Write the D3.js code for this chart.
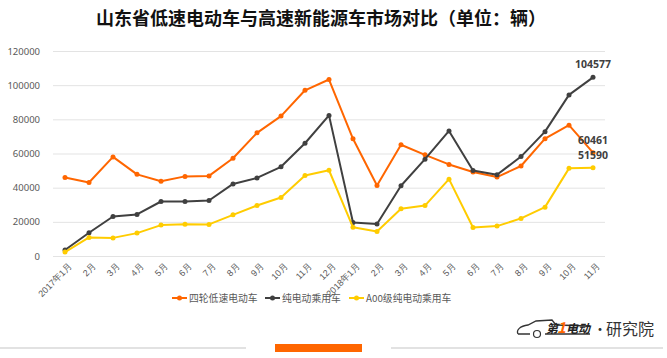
<!DOCTYPE html>
<html><head><meta charset="utf-8">
<script src="https://cdn.jsdelivr.net/npm/d3@7"></script>
<style>
html,body{margin:0;padding:0;background:#fff;}
svg{display:block;font-family:"Noto Sans CJK SC","Noto Sans",sans-serif;}
</style></head>
<body><svg id="chart" width="667" height="358"></svg>
<script>
const title = "山东省低速电动车与高速新能源车市场对比（单位：辆）";
const months = ["2017年1月","2月","3月","4月","5月","6月","7月","8月","9月","10月","11月","12月",
  "2018年1月","2月 ","3月 ","4月 ","5月 ","6月 ","7月 ","8月 ","9月 ","10月 ","11月 "];
const seriesNames = ["四轮低速电动车","纯电动乘用车","A00级纯电动乘用车"];
const lowSpeed = [46000,43000,58000,47800,43800,46600,46900,57200,72100,81900,97000,103300,
  68600,41300,65100,59200,53600,49200,46200,52700,68700,76600,60461];
const pureEV = [3500,13600,23100,24300,31900,31900,32500,42200,45700,52200,66000,82300,
  19600,18700,41100,56700,73200,50000,47600,58200,72800,94300,104577];
const a00 = [2300,10900,10600,13400,18100,18600,18500,24100,29600,34200,47100,50200,
  16800,14400,27600,29500,45000,16700,17500,22000,28600,51300,51590];
const yTicks = [0,20000,40000,60000,80000,100000,120000];
const colors = ["#FF6600","#404040","#FFCC00"];

const svg = d3.select("#chart");
const x = d3.scalePoint().domain(months).range([53,605]).padding(0.5);
const y = d3.scaleLinear().domain([0,120000]).range([256,51]);

// title
svg.append("text").attr("x",321).attr("y",25).attr("text-anchor","middle")
  .attr("font-size",18).attr("font-weight","bold").attr("fill","#111").text(title);

// y axis with gridlines
const ya = svg.append("g").attr("transform","translate(53,0)")
  .call(d3.axisLeft(y).tickValues(yTicks).tickSizeInner(-552).tickSizeOuter(0).tickPadding(13).tickFormat(d3.format("d")));
ya.select(".domain").remove();
ya.selectAll(".tick line").attr("stroke","#E3E3E3").attr("stroke-width",1);
ya.selectAll(".tick text").attr("fill","#595959").attr("font-size",9.5).attr("font-family","'Noto Sans','Noto Sans CJK SC',sans-serif");

// x axis
const xa = svg.append("g").attr("transform","translate(0,256)")
  .call(d3.axisBottom(x).tickSize(0).tickPadding(0));
xa.select(".domain").remove();
xa.selectAll(".tick text").attr("fill","#595959").attr("font-size",9)
  .attr("text-anchor","end").attr("dy",0).attr("y",0)
  .attr("transform","translate(7,11) rotate(-45)");

// lines
const data = [lowSpeed,pureEV,a00];
const line = d3.line().x((d,i)=>x(months[i])).y(d=>y(d));
data.forEach((s,k)=>{
  svg.append("path").datum(s).attr("d",line).attr("fill","none")
    .attr("stroke",colors[k]).attr("stroke-width",2).attr("stroke-linejoin","round");
  svg.append("g").selectAll("circle").data(s).join("circle")
    .attr("cx",(d,i)=>x(months[i])).attr("cy",d=>y(d)).attr("r",2.5).attr("fill",colors[k]);
});

// end labels
const last = months.length-1;
[[pureEV,-9],[lowSpeed,-9],[a00,-9]].forEach(([s,dy])=>{
  svg.append("text").attr("x",x(months[last])).attr("y",y(s[last])+dy)
    .attr("text-anchor","middle").attr("font-size",10.5).attr("font-weight","bold")
    .attr("fill","#404040").attr("font-family","'Noto Sans','Noto Sans CJK SC',sans-serif")
    .text(s[last]);
});

// legend
const legX = [172,265,349];
seriesNames.forEach((n,k)=>{
  const g = svg.append("g").attr("transform",`translate(${legX[k]},298)`);
  g.append("line").attr("x1",0).attr("x2",15).attr("y1",0).attr("y2",0).attr("stroke",colors[k]).attr("stroke-width",2);
  g.append("circle").attr("cx",7.5).attr("cy",0).attr("r",2.5).attr("fill",colors[k]);
  g.append("text").attr("x",17).attr("y",3.5).attr("font-size",9.8).attr("fill","#595959").text(n);
});

// bottom decoration
svg.append("line").attr("x1",0).attr("x2",246).attr("y1",348).attr("y2",348).attr("stroke","#D9D9D9").attr("stroke-width",1.5);
svg.append("line").attr("x1",391).attr("x2",663).attr("y1",348).attr("y2",348).attr("stroke","#D9D9D9").attr("stroke-width",1.5);
svg.append("rect").attr("x",275).attr("y",344).attr("width",87).attr("height",8).attr("fill","#FF6600");

// logo
const lg = svg.append("g");
lg.append("path").attr("d","M518,334 C516,330 520,326 528,325 L536,321 L552,320 L556,325 L590,326 M518,334 L530,334 M545,334 L590,334")
  .attr("fill","none").attr("stroke","#333").attr("stroke-width",1.3);
lg.append("circle").attr("cx",537).attr("cy",334).attr("r",3.5).attr("fill","none").attr("stroke","#333").attr("stroke-width",1.2);
lg.append("text").attr("x",546).attr("y",333).attr("font-size",12).attr("font-weight","bold").attr("font-style","italic").attr("fill","#222").text("第");
lg.append("text").attr("x",557).attr("y",333).attr("font-size",15).attr("font-weight","bold").attr("font-style","italic").attr("fill","#FF6600").text("1");
lg.append("text").attr("x",566).attr("y",333).attr("font-size",12).attr("font-weight","bold").attr("font-style","italic").attr("fill","#222").text("电动");
lg.append("text").attr("x",593).attr("y",334).attr("font-size",14).attr("fill","#333").text("·");
lg.append("text").attr("x",606).attr("y",335).attr("font-size",16).attr("fill","#333").text("研究院");
</script></body></html>
